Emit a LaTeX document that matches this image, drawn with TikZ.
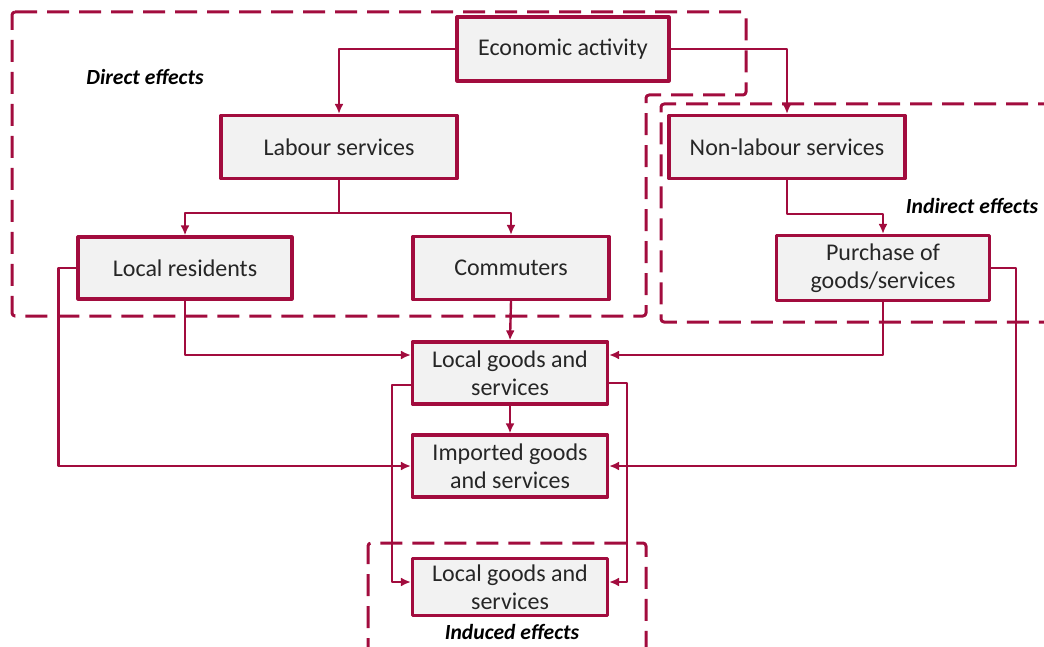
\documentclass[tikz,border=0pt]{standalone}
\usepackage{fontspec}
\setmainfont{Carlito}
\usetikzlibrary{arrows.meta}
\definecolor{maroon}{RGB}{162,12,62}
\definecolor{boxgray}{RGB}{242,242,242}
\begin{document}
\begin{tikzpicture}[x=0.5pt,y=-0.5pt,line join=round,>={Latex[length=5pt,width=4.5pt]},
  box/.style={draw=maroon,line width=1.6pt,fill=boxgray,align=center,inner sep=0pt,
    text=black!85,font=\fontsize{12}{14}\selectfont},
  arr/.style={->,draw=maroon,line width=1.2pt},
  region/.style={draw=maroon,line width=1.5pt,dash pattern=on 11pt off 5pt,rounded corners=1.5pt},
  effect/.style={font=\fontsize{10.8}{12}\selectfont\bfseries\itshape,inner sep=0pt}]
\clip (0,0) rectangle (1044,647);

\draw[region](12,12)--(746,12)--(746,95)--(646,95)--(646,316)--(12,316)--cycle;
\draw[region](1060,104)--(661,104)--(661,322)--(1060,322);
\draw[region](368,660)--(368,543)--(646,543)--(646,660);

\node[box,minimum width=106pt,minimum height=32pt] (eco) at (563,49) {Economic activity};
\node[box,minimum width=118pt,minimum height=31.5pt] (labour) at (339,147) {Labour services};
\node[box,minimum width=118pt,minimum height=31.5pt] (nonlab) at (787,147) {Non-labour services};
\node[box,minimum width=107pt,minimum height=31pt] (resid) at (185,268) {Local residents};
\node[box,minimum width=98pt,minimum height=31.5pt] (comm) at (511,268) {Commuters};
\node[box,minimum width=106.5pt,minimum height=32.5pt] (purch) at (883,268) {Purchase of\\goods/services};
\node[box,minimum width=97.5pt,minimum height=31pt] (local) at (510,373) {Local goods and\\services};
\node[box,minimum width=97.5pt,minimum height=31pt] (import) at (510,466) {Imported goods\\and services};
\node[box,minimum width=97.5pt,minimum height=28.5pt] (local2) at (510,587) {Local goods and\\services};

\node[effect] (direct) at (145,77) {Direct effects};
\node[effect] (indirect) at (972,206) {Indirect effects};
\node[effect] (induced) at (512,632) {Induced effects};

\draw[arr](eco.west) -| (labour.north);
\draw[arr](eco.east) -| (nonlab.north);
\draw[arr](labour.south) -- ++(0,-16.5pt) -| (resid.north);
\draw[arr](labour.south) -- ++(0,-16.5pt) -| (comm.north);
\draw[arr](nonlab.south) -- ++(0,-17pt) -| (purch.north);
\draw[arr](resid.south) |- ([yshift=9pt]local.west);
\draw[arr](comm.south) -- (local.north);
\draw[arr](purch.south) |- ([yshift=9pt]local.east);
\draw[arr](resid.west) -- ++(-9pt,0) |- (import.west);
\draw[arr](purch.east) -- ++(12.5pt,0) |- (import.east);
\draw[arr](local.south) -- (import.north);
\draw[arr]([yshift=-6pt]local.west) -- ++(-9.5pt,0) |- ([yshift=2.5pt]local2.west);
\draw[arr]([yshift=-5pt]local.east) -- ++(9pt,0) |- ([yshift=2.5pt]local2.east);
\end{tikzpicture}
\end{document}
